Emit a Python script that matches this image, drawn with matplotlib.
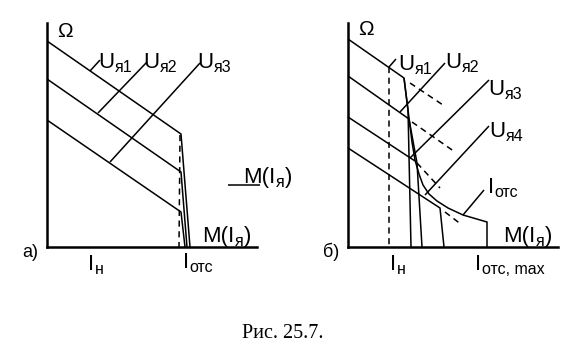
import matplotlib
matplotlib.use("Agg")
import matplotlib.pyplot as plt
import matplotlib.transforms as mtransforms
from matplotlib import font_manager

# -----------------------------
# fonts
# -----------------------------
names = {f.name for f in font_manager.fontManager.ttflist}
if "Liberation Sans Narrow" in names:
    SANS, MAIN, SUB = "Liberation Sans Narrow", 18, 12
else:
    SANS, MAIN, SUB = "Liberation Sans", 16, 11.5
SERIF = "Liberation Serif"

# -----------------------------
# panel a) data (I along x, Omega along y)
# -----------------------------
a_char_x = [[0, 134, 143], [0, 134, 140], [0, 134, 138]]
a_char_y = [[206, 113, 0], [168, 75, 0], [127, 35, 0]]
a_dash_x = [133, 132]
a_dash_y = [112, 0]
a_lead_x = [[43, 53], [51, 100], [63, 153]]
a_lead_y = [[176, 187], [134, 185], [85, 184]]
a_under_x = [181, 213]
a_under_y = [62, 62]

# -----------------------------
# panel b) data
# -----------------------------
b_char_x = [[0, 56, 60, 63], [0, 61, 69, 74], [0, 67], [0, 92, 96]]
b_char_y = [[208, 169, 137, 0], [171, 128, 84, 0], [130, 86], [99, 39, 0]]
b_cut_x = [56, 60, 64, 67, 71, 75, 81, 89, 100, 115, 139, 139]
b_cut_y = [169, 137, 105, 87, 73, 62, 53, 46, 39, 32, 25, 0]
b_dash_x = [[62, 95], [64, 107], [69, 92], [97, 114]]
b_dash_y = [[164, 142], [125, 95], [84, 59], [35, 22]]
b_nom_x = [41, 41]
b_nom_y = [180, 0]
b_lead_x = [[41, 48], [52, 97], [62, 141], [77, 141], [115, 136]]
b_lead_y = [[180, 188], [135, 184], [89, 167], [52, 121], [32, 57]]

W, H = 578, 352
fig = plt.figure(figsize=(W / 100, H / 100), dpi=100)
renderer = fig.canvas.get_renderer()


def panel(left):
    ax = fig.add_axes([left / W, (H - 247) / H, 210 / W, 224 / H])
    ax.set_xlim(0, 210)
    ax.set_ylim(0, 224)
    for s in ["top", "right"]:
        ax.spines[s].set_visible(False)
    for s in ["left", "bottom"]:
        ax.spines[s].set_linewidth(1.8)
    ax.set_xticks([])
    ax.set_yticks([])
    ax.patch.set_alpha(0)
    return ax


def label(ax, x, y, parts, size=MAIN, sub=SUB, drop=4):
    # parts: (text, is_subscript); baseline at (x, y)
    dx = 0.0
    for txt, is_sub in parts:
        tr = mtransforms.offset_copy(ax.transData, fig=fig, x=dx,
                                     y=-drop if is_sub else 0, units="dots")
        t = ax.text(x, y, txt, transform=tr, fontsize=sub if is_sub else size,
                    family=SANS, va="baseline", ha="left", clip_on=False)
        dx += t.get_window_extent(renderer).width + 0.5


kw = dict(color="black", lw=1.1, solid_capstyle="butt", clip_on=False)
dash = dict(color="black", lw=1.1, ls=(0, (4, 3)), clip_on=False)

# -----------------------------
# a)
# -----------------------------
ax = panel(47)
for xs, ys in zip(a_char_x, a_char_y):
    ax.plot(xs, ys, **kw)
ax.plot(a_dash_x, a_dash_y, **dash)
for xs, ys in zip(a_lead_x, a_lead_y):
    ax.plot(xs, ys, **kw)
ax.plot(a_under_x, a_under_y, **kw)

label(ax, 10, 210, [("Ω", False)], size=MAIN - 1)
label(ax, -25, -10, [("а)", False)], size=MAIN - 3)
label(ax, 51, 179, [("U", False), ("я1", True)])
label(ax, 96, 179, [("U", False), ("я2", True)])
label(ax, 150, 179, [("U", False), ("я3", True)])
label(ax, 196, 64, [("M(I", False), ("я", True), (")", False)])
label(ax, 155, 5, [("M(I", False), ("я", True), (")", False)])
label(ax, 41, -23, [("I", False), ("н", True)])
label(ax, 136, -21, [("I", False), ("отс", True)])

# -----------------------------
# б)
# -----------------------------
ax = panel(348)
for xs, ys in zip(b_char_x, b_char_y):
    ax.plot(xs, ys, **kw)
ax.plot(b_cut_x, b_cut_y, **kw)
for xs, ys in zip(b_dash_x, b_dash_y):
    ax.plot(xs, ys, **dash)
ax.plot(b_nom_x, b_nom_y, **dash)
for xs, ys in zip(b_lead_x, b_lead_y):
    ax.plot(xs, ys, **kw)

label(ax, 10, 212, [("Ω", False)], size=MAIN - 1)
label(ax, -25, -10, [("б)", False)], size=MAIN - 3)
label(ax, 50, 177, [("U", False), ("я1", True)])
label(ax, 97, 179, [("U", False), ("я2", True)])
label(ax, 140, 152, [("U", False), ("я3", True)])
label(ax, 141, 110, [("U", False), ("я4", True)])
label(ax, 140, 54, [("I", False), ("отс", True)])
label(ax, 155, 5, [("M(I", False), ("я", True), (")", False)])
label(ax, 42, -23, [("I", False), ("н", True)])
label(ax, 127, -23, [("I", False), ("отс, max", True)])

fig.text(283 / W, 1 - 333 / H, "Рис. 25.7.", family=SERIF, fontsize=14.5,
         ha="center", va="center")

fig.savefig("out.png", dpi=100)
